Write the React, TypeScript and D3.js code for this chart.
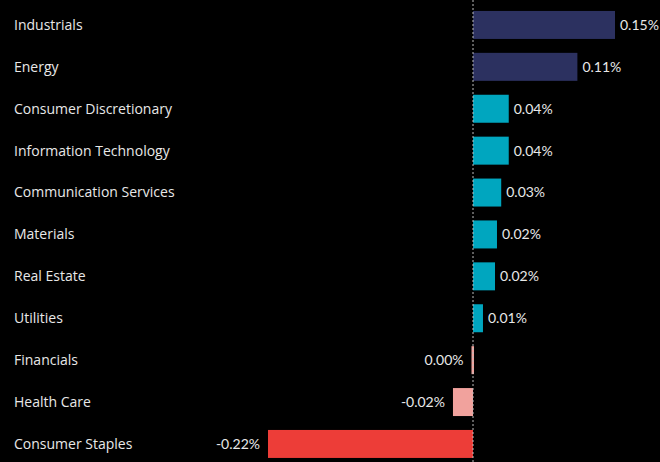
import React from "react";
import * as d3 from "d3";

const categories = [
  "Industrials",
  "Energy",
  "Consumer Discretionary",
  "Information Technology",
  "Communication Services",
  "Materials",
  "Real Estate",
  "Utilities",
  "Financials",
  "Health Care",
  "Consumer Staples",
];
const values = [0.151, 0.111, 0.038, 0.038, 0.030, 0.0255, 0.0234, 0.0106, -0.002, -0.0213, -0.218];
const labels = ["0.15%", "0.11%", "0.04%", "0.04%", "0.03%", "0.02%", "0.02%", "0.01%", "0.00%", "-0.02%", "-0.22%"];

const W = 660;
const H = 462;

function colorFor(v: number) {
  if (v >= 0.1) return "#2c3160";
  if (v > 0) return "#00a6bf";
  if (v > -0.1) return "#f1a29d";
  return "#ed3d38";
}

export default function App() {
  const x = d3.scaleLinear().domain([-0.218, 0.151]).range([268, 615]);
  const y = d3
    .scaleBand<string>()
    .domain(categories)
    .range([4, 4 + 41.9 * categories.length])
    .paddingInner(0.332)
    .paddingOuter(0.166);
  const x0 = x(0);
  const catFont = "'Open Sans', Lato, sans-serif";
  const numFont = "Lato, 'Open Sans', sans-serif";
  return (
    <svg
      width={W}
      height={H}
      style={{ position: "absolute", left: 0, top: 0, background: "#000" }}
    >
      <rect x={0} y={0} width={W} height={H} fill="#000" />
      {categories.map((c, i) => {
        const v = values[i];
        const yy = y(c)!;
        const bw = y.bandwidth();
        const cy = yy + bw / 2;
        let xa = Math.min(x(v), x0);
        let xb = Math.max(x(v), x0);
        if (xb - xa < 2.5) {
          xa = x0 - 1.5;
          xb = x0 + 1;
        }
        return (
          <g key={c}>
            <text
              x={14}
              y={cy}
              dy="0.35em"
              fill="#e8e8e8"
              fontFamily={catFont}
              fontSize={14}
            >
              {c}
            </text>
            <rect x={xa} y={yy} width={xb - xa} height={bw} fill={colorFor(v)} />
            <text
              x={v >= 0 ? xb + 5 : xa - 8}
              y={cy}
              dy="0.35em"
              textAnchor={v >= 0 ? "start" : "end"}
              fill="#e8e8e8"
              fontFamily={numFont}
              fontSize={14}
            >
              {labels[i]}
            </text>
          </g>
        );
      })}
      <line
        x1={x0}
        x2={x0}
        y1={0}
        y2={H}
        stroke="#bbbbbb"
        strokeWidth={1}
        strokeDasharray="2,2"
      />
    </svg>
  );
}
